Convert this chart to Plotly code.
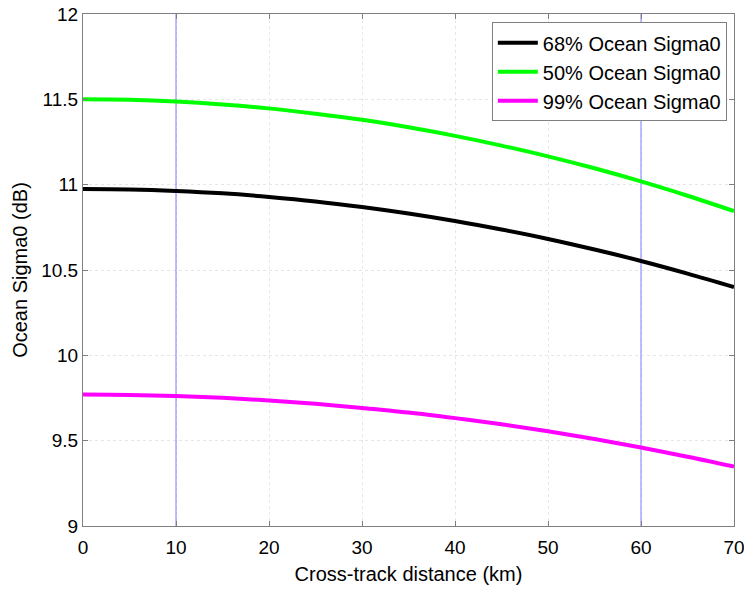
import plotly.graph_objects as go

x_km = [0, 5, 10, 15, 20, 25, 30, 35, 40, 45, 50, 55, 60, 65, 70]
sigma_68 = [10.975, 10.972, 10.963, 10.949, 10.928, 10.902, 10.869, 10.831, 10.787, 10.737, 10.682, 10.620, 10.553, 10.479, 10.40]
sigma_50 = [11.50, 11.497, 11.487, 11.470, 11.447, 11.416, 11.380, 11.336, 11.286, 11.229, 11.166, 11.096, 11.019, 10.935, 10.845]
sigma_99 = [9.77, 9.768, 9.761, 9.751, 9.736, 9.716, 9.692, 9.665, 9.632, 9.596, 9.555, 9.510, 9.46, 9.406, 9.348]
vlines_km = [10, 60]
y_range = [9, 12]

font = "Liberation Sans, Arial, sans-serif"
fig = go.Figure()

for xv in vlines_km:
    fig.add_trace(go.Scatter(x=[xv, xv], y=y_range, mode="lines",
                             line=dict(color="#7c7cff", width=1),
                             showlegend=False, hoverinfo="skip"))

series = [("68% Ocean Sigma0", sigma_68, "#000000"),
          ("50% Ocean Sigma0", sigma_50, "#00ff00"),
          ("99% Ocean Sigma0", sigma_99, "#ff00ff")]
for name, ys, col in series:
    fig.add_trace(go.Scatter(x=x_km, y=ys, mode="lines", name=name,
                             line=dict(color=col, width=4, shape="spline")))

axis_common = dict(showline=True, linecolor="#7f7f7f", linewidth=1, mirror="ticks",
                   ticks="inside", ticklen=5, tickcolor="#7f7f7f",
                   showgrid=True, gridcolor="#e6e6e6", griddash="dot", gridwidth=1,
                   zeroline=False, automargin=False, ticklabeloverflow="allow",
                   tickfont=dict(size=19, color="#000", family=font))

fig.update_xaxes(range=[0, 70], tickvals=[0, 10, 20, 30, 40, 50, 60, 70],
                 ticklabelstandoff=4,
                 title=dict(text="Cross-track distance (km)", font=dict(size=20, color="#000", family=font), standoff=10),
                 **axis_common)
fig.update_yaxes(range=y_range, tickvals=[9, 9.5, 10, 10.5, 11, 11.5, 12],
                 ticktext=["9", "9.5", "10", "10.5", "11", "11.5", "12"],
                 title=dict(text="Ocean Sigma0 (dB)", font=dict(size=20, color="#000", family=font), standoff=8),
                 **axis_common)

fig.update_layout(
    width=744, height=590,
    margin=dict(l=83, r=10, t=14, b=64),
    plot_bgcolor="white", paper_bgcolor="white",
    font=dict(family=font, size=19, color="#000"),
    legend=dict(x=0.989, y=0.984, xanchor="right", yanchor="top",
                bgcolor="white", bordercolor="#7f7f7f", borderwidth=1,
                font=dict(size=20, family=font, color="#000"),
                tracegroupgap=0, itemwidth=40),
)

fig.write_html("out.html")
